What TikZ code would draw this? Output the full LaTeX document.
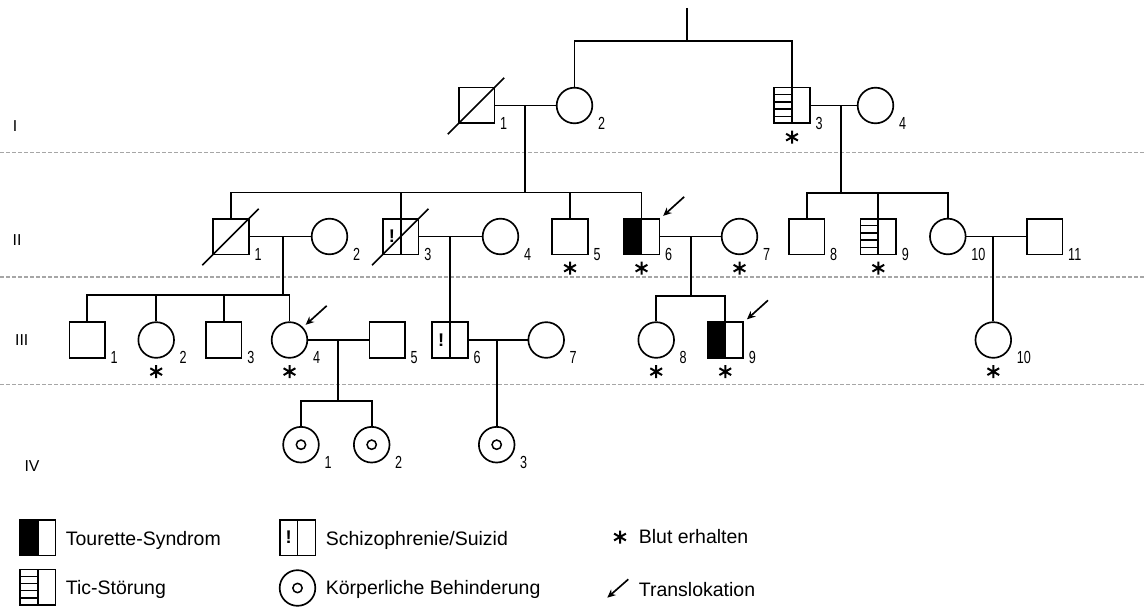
\documentclass[tikz,border=0pt]{standalone}
\usepackage{fontspec}
\setmainfont{Liberation Sans}
\newfontfamily\numfont[FakeStretch=0.72]{Liberation Sans}
\usetikzlibrary{arrows.meta,calc}

\tikzset{
  person/.style={draw,line width=1pt,inner sep=0pt,minimum size=21.4pt},
  male/.style={person,rectangle},
  female/.style={person,circle},
  tourette/.style={male,path picture={
    \fill (path picture bounding box.south west) rectangle (path picture bounding box.north);
    \draw[line width=1pt] (path picture bounding box.south) -- (path picture bounding box.north);}},
  tic/.style={male,path picture={
    \foreach \f in {0.2,0.4,0.6,0.8}
      \draw[line width=0.8pt] ($(path picture bounding box.south west)!\f!(path picture bounding box.north west)$)
        -- ($(path picture bounding box.south)!\f!(path picture bounding box.north)$);
    \draw[line width=1pt] (path picture bounding box.south) -- (path picture bounding box.north);}},
  schizo/.style={male,path picture={
    \draw[line width=1pt] (path picture bounding box.south) -- (path picture bounding box.north);},
    label={[font=\bfseries\fontsize{11}{11}\selectfont,xshift=-5.3pt]center:!}},
  ring/.style={female,path picture={
    \draw[line width=0.9pt] (path picture bounding box.center) circle (2.8pt);}},
  num/.style={anchor=base west,inner sep=0pt,font=\numfont\fontsize{10.5}{10}\selectfont},
  gen/.style={inner sep=0pt,font=\fontsize{9.5}{11}\selectfont},
  txt/.style={anchor=base west,inner sep=0pt,font=\fontsize{11.7}{14}\selectfont},
  blood/.pic={\draw[line width=1.2pt] (90:6.5) -- (270:6.5) (30:6.8) -- (210:6.8) (150:6.8) -- (330:6.8);},
  transl/.style={line width=1pt,-{Stealth[length=5pt,width=4.5pt]}},
  sep/.style={line width=0.8pt,gray!70,dash pattern=on 2.4pt off 1.2pt}
}

\begin{document}
\begin{tikzpicture}[x=0.6pt,y=-0.6pt,line width=1pt]
\useasboundingbox (0,0) rectangle (1146,608);

\draw[sep] (0,152.7) -- (1146,152.7)
           (0,277) -- (1146,277)
           (0,384.5) -- (1146,384.5);

\node[gen] at (15,126) {I};
\node[gen] at (17,240) {II};
\node[gen] at (21.7,340) {III};
\node[gen] at (32,466) {IV};

\node[male]     (i1)   at (476.5,105.5) {};
\node[female]   (i2)   at (574.5,105.5) {};
\node[tic]      (i3)   at (792,105.5) {};
\node[female]   (i4)   at (875.5,105.5) {};

\node[male]     (ii1)  at (231,236.5) {};
\node[female]   (ii2)  at (329.5,236.5) {};
\node[schizo]   (ii3)  at (400.8,236.5) {};
\node[female]   (ii4)  at (500.5,236.5) {};
\node[male]     (ii5)  at (570,236.5) {};
\node[tourette] (ii6)  at (641.5,236.5) {};
\node[female]   (ii7)  at (739.5,236.5) {};
\node[male]     (ii8)  at (806.7,236.5) {};
\node[tic]      (ii9)  at (878.3,236.5) {};
\node[female]   (ii10) at (947.8,236.5) {};
\node[male]     (ii11) at (1044.7,236.5) {};

\node[male]     (iii1) at (87.2,340) {};
\node[female]   (iii2) at (156.2,340) {};
\node[male]     (iii3) at (223.8,340) {};
\node[female]   (iii4) at (289.5,340) {};
\node[male]     (iii5) at (387.2,340) {};
\node[schizo]   (iii6) at (450,340) {};
\node[female]   (iii7) at (546.2,340) {};
\node[female]   (iii8) at (656.2,340) {};
\node[tourette] (iii9) at (725.3,340) {};
\node[female]   (iii10) at (993.3,340) {};

\node[ring] (iv1) at (301,444.7) {};
\node[ring] (iv2) at (371.7,444.7) {};
\node[ring] (iv3) at (496.7,444.7) {};

\coordinate (t)  at (686.7,8);
\coordinate (s0) at (686.7,41);
\draw (t) -- (s0);
\draw (i2.north) |- (s0) -| (i3.north);

\coordinate (m1) at (525.3,105.5);
\coordinate (s1) at (525.3,192.5);
\draw (i1) -- (i2);
\draw (m1) -- (s1);
\draw (ii1.north) |- (s1) -| (ii6.north);
\draw (ii3.north) -- (ii3.north |- s1);
\draw (ii5.north) -- (ii5.north |- s1);

\coordinate (m2) at (840.7,105.5);
\coordinate (s2) at (840.7,193.3);
\draw (i3) -- (i4);
\draw (m2) -- (s2);
\draw (ii8.north) |- (s2) -| (ii10.north);
\draw (ii9.north) -- (ii9.north |- s2);

\coordinate (m3) at (282.7,236.5);
\coordinate (s3) at (282.7,295);
\draw (ii1) -- (ii2);
\draw (m3) -- (s3);
\draw (iii1.north) |- (s3) -| (iii4.north);
\draw (iii2.north) -- (iii2.north |- s3);
\draw (iii3.north) -- (iii3.north |- s3);

\coordinate (m4) at (450,236.5);
\draw (ii3) -- (ii4);
\draw (m4) -- (iii6);

\coordinate (m5) at (690.7,236.5);
\coordinate (s5) at (690.7,295.7);
\draw (ii6) -- (ii7);
\draw (m5) -- (s5);
\draw (iii8.north) |- (s5) -| (iii9.north);

\coordinate (m6) at (993.3,236.5);
\draw (ii10) -- (ii11);
\draw (m6) -- (iii10);

\coordinate (m7) at (337.7,340);
\coordinate (s7) at (337.7,400.7);
\draw (iii4) -- (iii5);
\draw (m7) -- (s7);
\draw (iv1.north) |- (s7) -| (iv2.north);

\coordinate (m8) at (496.7,340);
\draw (iii6) -- (iii7);
\draw (m8) -- (iv3);

\foreach \p in {i1,ii1,ii3}
  \draw ($(\p.south west)+(-10,10)$) -- ($(\p.north east)+(9,-9)$);

\foreach \p/\n in {i1/1,i2/2,i3/3,i4/4,
    ii1/1,ii2/2,ii3/3,ii4/4,ii5/5,ii6/6,ii7/7,ii8/8,ii9/9,ii10/10,ii11/11,
    iii1/1,iii2/2,iii3/3,iii4/4,iii5/5,iii6/6,iii7/7,iii8/8,iii9/9,iii10/10,
    iv1/1,iv2/2,iv3/3}
  \node[num] at ($(\p.south -| \p.east)+(4,5)$) {\n};

\foreach \p in {i3,ii5,ii6,ii7,ii9,iii2,iii4,iii8,iii9,iii10}
  \pic at ($(\p.south)+(0,13)$) {blood};

\foreach \p in {ii6,iii4,iii9}
  \draw[transl] ($(\p.north east)+(24,-21)$) -- ($(\p.north east)+(3,-2)$);

\node[tourette] (lg1) at (37.8,537.5) {};
\node[txt] at (65,545) {Tourette-Syndrom};
\node[tic] (lg2) at (37.8,587.2) {};
\node[txt] at (65,594) {Tic-Störung};
\node[schizo] (lg3) at (297.5,537.5) {};
\node[txt] at (325,545) {Schizophrenie/Suizid};
\node[ring] (lg4) at (297.5,588) {};
\node[txt] at (325,594) {Körperliche Behinderung};
\pic at (620,537) {blood};
\node[txt] at (638,543.5) {Blut erhalten};
\coordinate (lg6) at (628.3,579.3);
\draw[transl] (lg6) -- ++(-21,18.4);
\node[txt] at (638,596) {Translokation};

\end{tikzpicture}
\end{document}
